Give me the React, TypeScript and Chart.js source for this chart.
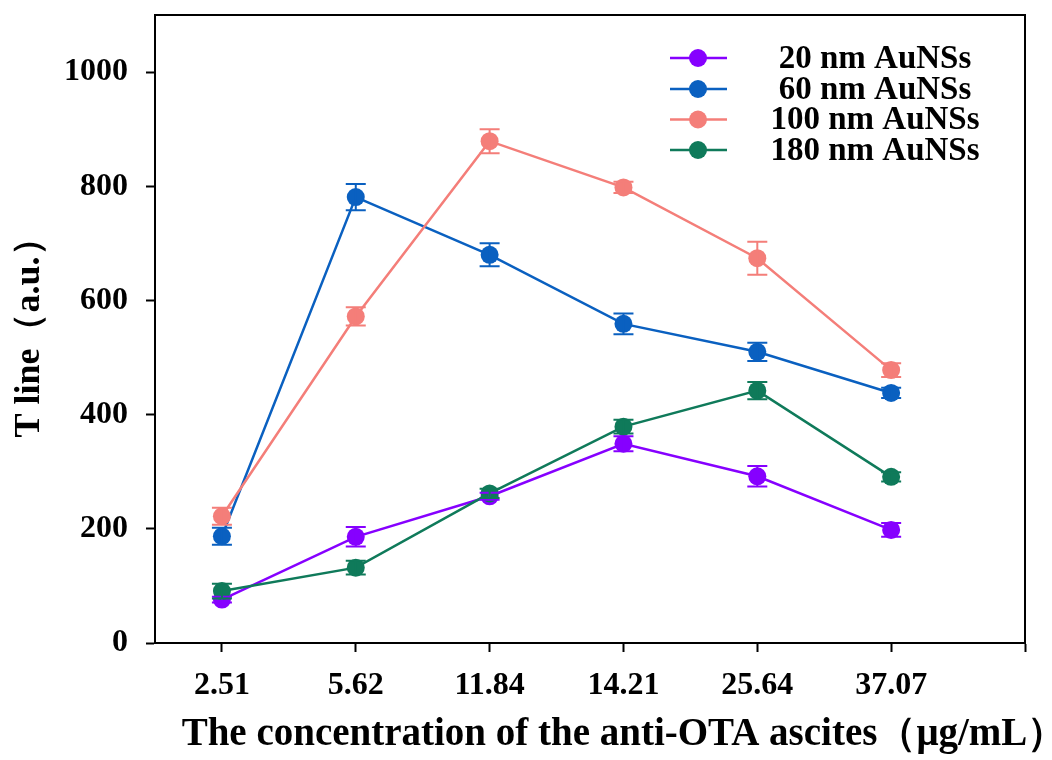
import { useEffect, useRef } from 'react';
import { Chart, registerables } from 'chart.js';
Chart.register(...registerables);

const categories = ['2.51', '5.62', '11.84', '14.21', '25.64', '37.07'];
const seriesNames = ['20 nm AuNSs', '60 nm AuNSs', '100 nm AuNSs', '180 nm AuNSs'];
const au20 = [76, 186, 257, 349, 292, 198];
const au20Err = [5, 17, 6, 13, 18, 12];
const au60 = [187, 781, 680, 559, 510, 438];
const au60Err = [15, 23, 20, 18, 16, 9];
const au100 = [222, 572, 879, 798, 674, 478];
const au100Err = [15, 16, 21, 10, 29, 12];
const au180 = [91, 132, 262, 379, 442, 291];
const au180Err = [13, 12, 8, 12, 15, 8];
const yTicks = [0, 200, 400, 600, 800, 1000];
const colors = ['#8600ff', '#0a60c0', '#f47e79', '#0f7a5a'];

const FONT = '"Liberation Serif", "Times New Roman", serif';
const xTitle = 'The concentration of the anti-OTA ascites（μg/mL）';
const yTitle = 'T line（a.u.）';

const seriesValues = [au20, au60, au100, au180];
const seriesErrors = [au20Err, au60Err, au100Err, au180Err];

const errorBarPlugin = {
  id: 'errorBars',
  afterDatasetsDraw(chart: any) {
    const ctx = chart.ctx;
    const yScale = chart.scales.y;
    chart.data.datasets.forEach((ds: any, di: number) => {
      const meta = chart.getDatasetMeta(di);
      const errs = seriesErrors[di];
      ctx.save();
      ctx.strokeStyle = ds.borderColor;
      ctx.lineWidth = 2;
      meta.data.forEach((pt: any, i: number) => {
        const v = seriesValues[di][i];
        const e = errs[i];
        const top = yScale.getPixelForValue(v + e);
        const bot = yScale.getPixelForValue(v - e);
        const x = pt.x;
        ctx.beginPath();
        ctx.moveTo(x, top);
        ctx.lineTo(x, bot);
        ctx.moveTo(x - 10, top);
        ctx.lineTo(x + 10, top);
        ctx.moveTo(x - 10, bot);
        ctx.lineTo(x + 10, bot);
        ctx.stroke();
      });
      ctx.restore();
    });
  },
};

const framePlugin = {
  id: 'frameAndLegend',
  afterDraw(chart: any) {
    const ctx = chart.ctx;
    const a = chart.chartArea;
    ctx.save();
    ctx.strokeStyle = '#000';
    ctx.lineWidth = 2;
    ctx.strokeRect(a.left, a.top, a.right - a.left, a.bottom - a.top);

    // legend
    const lx0 = 670;
    const lx1 = 727;
    const mx = 698;
    const tx = 875;
    const ys = [58, 89, 119.5, 150];
    ctx.font = `bold 33px ${FONT}`;
    ctx.textAlign = 'center';
    ctx.textBaseline = 'middle';
    seriesNames.forEach((name, i) => {
      const y = ys[i];
      ctx.strokeStyle = colors[i];
      ctx.lineWidth = 2.5;
      ctx.beginPath();
      ctx.moveTo(lx0, y);
      ctx.lineTo(lx1, y);
      ctx.stroke();
      ctx.fillStyle = colors[i];
      ctx.beginPath();
      ctx.arc(mx, y, 9, 0, Math.PI * 2);
      ctx.fill();
      ctx.fillStyle = '#000';
      ctx.fillText(name, tx, y + 1);
    });

    // x axis title
    ctx.font = `bold 39px ${FONT}`;
    ctx.fillStyle = '#000';
    ctx.textAlign = 'center';
    ctx.textBaseline = 'middle';
    ctx.fillText(xTitle, 624, 735);
    ctx.restore();
  },
};

export default function App() {
  const ref = useRef<HTMLCanvasElement | null>(null);
  useEffect(() => {
    if (!ref.current) return;
    const chart = new Chart(ref.current, {
      type: 'line',
      data: {
        datasets: seriesNames.map((name, di) => ({
          label: name,
          data: seriesValues[di].map((v, i) => ({ x: i + 1, y: v })),
          borderColor: colors[di],
          backgroundColor: colors[di],
          pointBackgroundColor: colors[di],
          pointBorderColor: colors[di],
          pointRadius: 9,
          pointBorderWidth: 0,
          borderWidth: 2.5,
          tension: 0,
          order: 4 - di,
        })),
      },
      options: {
        animation: false,
        responsive: false,
        events: [],
        layout: { padding: { left: 0, right: 27, top: 15, bottom: 0 } },
        plugins: {
          legend: { display: false },
          tooltip: { enabled: false },
          title: { display: false },
        },
        scales: {
          x: {
            type: 'linear',
            min: 0.5,
            max: 7,
            afterBuildTicks: (s: any) => {
              s.ticks = [1, 2, 3, 4, 5, 6, 7].map((v) => ({ value: v }));
            },
            afterFit: (s: any) => {
              s.height = 117;
              s.paddingLeft = 0;
              s.paddingRight = 0;
            },
            ticks: {
              autoSkip: false,
              maxRotation: 0,
              padding: 15,
              color: '#000',
              font: { family: FONT, size: 32, weight: 'bold' },
              callback: (v: any) => categories[Math.round(Number(v)) - 1] ?? '',
            },
            grid: {
              drawOnChartArea: false,
              drawTicks: true,
              tickLength: 9,
              tickWidth: 2,
              tickColor: '#000',
            },
            border: { display: true, color: '#000', width: 2 },
          },
          y: {
            type: 'linear',
            min: 0,
            max: 1100,
            afterBuildTicks: (s: any) => {
              s.ticks = yTicks.map((v) => ({ value: v }));
            },
            afterFit: (s: any) => {
              s.width = 155;
              s.paddingTop = 0;
              s.paddingBottom = 0;
            },
            ticks: {
              padding: 18,
              color: '#000',
              font: { family: FONT, size: 32, weight: 'bold' },
              callback: (v: any) => String(v),
            },
            grid: {
              drawOnChartArea: false,
              drawTicks: true,
              tickLength: 9,
              tickWidth: 2,
              tickColor: '#000',
            },
            border: { display: true, color: '#000', width: 2 },
            title: {
              display: true,
              text: yTitle,
              color: '#000',
              padding: { top: 8, bottom: 0 },
              font: { family: FONT, size: 36, weight: 'bold' },
            },
          },
        },
      },
      plugins: [errorBarPlugin, framePlugin],
    } as any);
    return () => chart.destroy();
  }, []);
  return (
    <div style={{ position: 'fixed', left: 0, top: 0, width: 1052, height: 760, background: '#fff' }}>
      <canvas ref={ref} width={1052} height={760} style={{ width: 1052, height: 760, display: 'block' }} />
    </div>
  );
}
